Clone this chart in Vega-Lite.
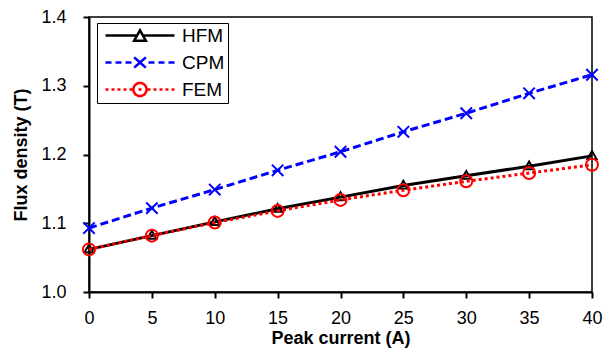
{
  "$schema": "https://vega.github.io/schema/vega-lite/v6.json",
  "width": 503,
  "height": 275,
  "autosize": "none",
  "padding": {"left": 89, "top": 17, "right": 11, "bottom": 66},
  "background": "white",
  "data": {
    "values": [
      {"current": 0, "flux": 1.062, "model": "HFM"},
      {"current": 5, "flux": 1.082, "model": "HFM"},
      {"current": 10, "flux": 1.102, "model": "HFM"},
      {"current": 15, "flux": 1.121, "model": "HFM"},
      {"current": 20, "flux": 1.138, "model": "HFM"},
      {"current": 25, "flux": 1.155, "model": "HFM"},
      {"current": 30, "flux": 1.169, "model": "HFM"},
      {"current": 35, "flux": 1.183, "model": "HFM"},
      {"current": 40, "flux": 1.198, "model": "HFM"},
      {"current": 0, "flux": 1.093, "model": "CPM"},
      {"current": 5, "flux": 1.122, "model": "CPM"},
      {"current": 10, "flux": 1.149, "model": "CPM"},
      {"current": 15, "flux": 1.177, "model": "CPM"},
      {"current": 20, "flux": 1.204, "model": "CPM"},
      {"current": 25, "flux": 1.233, "model": "CPM"},
      {"current": 30, "flux": 1.260, "model": "CPM"},
      {"current": 35, "flux": 1.289, "model": "CPM"},
      {"current": 40, "flux": 1.316, "model": "CPM"},
      {"current": 0, "flux": 1.062, "model": "FEM"},
      {"current": 5, "flux": 1.082, "model": "FEM"},
      {"current": 10, "flux": 1.101, "model": "FEM"},
      {"current": 15, "flux": 1.118, "model": "FEM"},
      {"current": 20, "flux": 1.134, "model": "FEM"},
      {"current": 25, "flux": 1.148, "model": "FEM"},
      {"current": 30, "flux": 1.161, "model": "FEM"},
      {"current": 35, "flux": 1.173, "model": "FEM"},
      {"current": 40, "flux": 1.185, "model": "FEM"}
    ]
  },
  "encoding": {
    "x": {
      "field": "current", "type": "quantitative",
      "scale": {"domain": [0, 40], "nice": false},
      "axis": {"values": [0, 5, 10, 15, 20, 25, 30, 35, 40], "title": "Peak current (A)", "labelPadding": 11, "titlePadding": 2, "labelFlush": false}
    },
    "y": {
      "field": "flux", "type": "quantitative",
      "scale": {"domain": [1.0, 1.4], "nice": false, "zero": false},
      "axis": {"values": [1.0, 1.1, 1.2, 1.3, 1.4], "format": ".1f", "title": "Flux density (T)", "labelPadding": 17, "titlePadding": 10, "labelFlush": false}
    },
    "color": {
      "field": "model", "type": "nominal",
      "scale": {"domain": ["HFM", "CPM", "FEM"], "range": ["#000000", "#0000FF", "#FF0000"]},
      "legend": {
        "title": null,
        "orient": "none",
        "legendX": 8,
        "legendY": 6,
        "padding": 3,
        "rowPadding": 7,
        "clipHeight": 19,
        "symbolSize": 5929,
        "symbolOffset": 4,
        "labelOffset": 6,
        "labelFont": "Liberation Sans",
        "labelFontSize": 19,
        "labelColor": "#000000",
        "strokeColor": "#000000",
        "fillColor": "#FFFFFF",
        "encode": {
          "symbols": {
            "update": {
              "shape": {"signal": "datum.value === 'HFM' ? 'M-1,0L-0.09,0M0.09,0L1,0M0,-0.15L0.17,0.15L-0.17,0.15ZM2.6,0L2.6,0' : datum.value === 'CPM' ? 'M-1,0L-0.826,0M-0.71,0L-0.536,0M-0.42,0L-0.246,0M0.246,0L0.42,0M0.536,0L0.71,0M0.826,0L1,0M-0.17,-0.15L0.17,0.15M-0.17,0.15L0.17,-0.15M2.6,0L2.6,0' : 'M-1,0L-0.913,0M-0.826,0L-0.739,0M-0.652,0L-0.565,0M-0.478,0L-0.391,0M-0.304,0L-0.217,0M0.217,0L0.304,0M0.391,0L0.478,0M0.565,0L0.652,0M0.739,0L0.826,0M0.913,0L1,0M-0.043,0L0.043,0M0.19,0C0.19,0.105 0.105,0.19 0,0.19C-0.105,0.19 -0.19,0.105 -0.19,0C-0.19,-0.105 -0.105,-0.19 0,-0.19C0.105,-0.19 0.19,-0.105 0.19,0ZM2.6,0L2.6,0'"},
              "size": {"value": 4761},
              "fill": {"value": "transparent"},
              "strokeWidth": {"value": 2.5},
              "strokeDash": {"value": [1, 0]},
              "opacity": {"value": 1}
            }
          }
        }
      }
    }
  },
  "layer": [
    {
      "transform": [{"filter": {"field": "model", "equal": "HFM"}}],
      "mark": {"type": "line", "strokeWidth": 3}
    },
    {
      "transform": [{"filter": {"field": "model", "equal": "HFM"}}],
      "mark": {"type": "point", "filled": false, "strokeWidth": 2, "size": 144, "opacity": 1, "shape": "M0,-0.8L0.75,0.5L-0.75,0.5Z"}
    },
    {
      "transform": [{"filter": {"field": "model", "equal": "CPM"}}],
      "mark": {"type": "line", "strokeWidth": 3, "strokeDash": [8, 4]}
    },
    {
      "transform": [{"filter": {"field": "model", "equal": "CPM"}}],
      "mark": {"type": "point", "filled": false, "strokeWidth": 2, "size": 144, "opacity": 1, "shape": "M-0.95,-0.95L0.95,0.95M-0.95,0.95L0.95,-0.95"}
    },
    {
      "transform": [{"filter": {"field": "model", "equal": "FEM"}}],
      "mark": {"type": "line", "strokeWidth": 3, "strokeDash": [3, 3]}
    },
    {
      "transform": [{"filter": {"field": "model", "equal": "FEM"}}],
      "mark": {"type": "point", "filled": false, "strokeWidth": 2, "size": 144, "opacity": 1, "shape": "circle"}
    }
  ],
  "config": {
    "view": {"stroke": "#000000", "strokeWidth": 1.5},
    "axis": {
      "grid": false,
      "domainColor": "#000000",
      "domainWidth": 2,
      "tickColor": "#000000",
      "tickWidth": 2,
      "tickSize": 6,
      "labelFont": "Liberation Sans",
      "labelFontSize": 18,
      "labelColor": "#000000",
      "titleFont": "Liberation Sans",
      "titleFontSize": 18,
      "titleFontWeight": "bold",
      "titleColor": "#000000"
    }
  }
}
